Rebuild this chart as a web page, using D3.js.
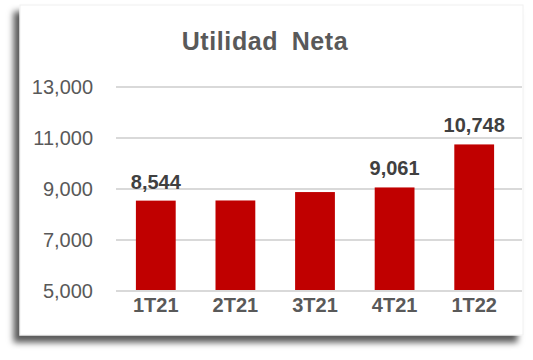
<!DOCTYPE html>
<html>
<head>
<meta charset="utf-8">
<script src="https://cdn.jsdelivr.net/npm/d3@7"></script>
<style>
  body { margin: 0; background: #fff; }
  text { font-family: Arial, "Liberation Sans", sans-serif; }
</style>
</head>
<body>
<svg id="chart" width="533" height="360"></svg>
<script>
const quarters = ['1T21', '2T21', '3T21', '4T21', '1T22']
const netIncome = [8544, 8550, 8880, 9061, 10748]
const shownLabels = [true, false, false, true, true]
const yTicks = [5000, 7000, 9000, 11000, 13000]

const svg = d3.select('#chart')

// drop shadow for the card
const defs = svg.append('defs')
const shadow = defs.append('filter')
  .attr('id', 'shadow')
  .attr('x', '-10%').attr('y', '-10%')
  .attr('width', '120%').attr('height', '120%')
shadow.append('feDropShadow')
  .attr('dx', -6).attr('dy', 7)
  .attr('stdDeviation', 3)
  .attr('flood-color', '#000')
  .attr('flood-opacity', 0.65)

svg.append('rect')
  .attr('x', 20).attr('y', 5)
  .attr('width', 503).attr('height', 330)
  .attr('fill', '#fff')
  .attr('stroke', '#f0f0f0')
  .attr('filter', 'url(#shadow)')

svg.append('text')
  .text('Utilidad Neta')
  .attr('x', 265).attr('y', 50)
  .attr('text-anchor', 'middle')
  .attr('font-size', 25)
  .attr('font-weight', 'bold')
  .attr('letter-spacing', 0.6)
  .attr('word-spacing', 6)
  .attr('fill', '#595959')

const x = d3.scaleBand()
  .domain(quarters)
  .range([116, 514])
  .paddingInner(0.5)
  .paddingOuter(0.25)

const y = d3.scaleLinear()
  .domain([5000, 13000])
  .range([291, 87])

// gridlines
svg.append('g')
  .selectAll('line')
  .data(yTicks)
  .join('line')
  .attr('x1', 116).attr('x2', 522)
  .attr('y1', d => y(d)).attr('y2', d => y(d))
  .attr('stroke', '#d9d9d9')
  .attr('stroke-width', 2)

// y tick labels
const fmt = d3.format(',')
svg.append('g')
  .selectAll('text')
  .data(yTicks)
  .join('text')
  .text(d => fmt(d))
  .attr('x', 93)
  .attr('y', d => y(d) + 7)
  .attr('text-anchor', 'end')
  .attr('font-size', 20)
  .attr('fill', '#595959')

// bars
svg.append('g')
  .selectAll('rect')
  .data(netIncome)
  .join('rect')
  .attr('x', (d, i) => x(quarters[i]))
  .attr('width', x.bandwidth())
  .attr('y', d => y(d))
  .attr('height', d => y(5000) - y(d) - 1)
  .attr('fill', '#c00000')

// value labels
svg.append('g')
  .selectAll('text')
  .data(netIncome.filter((d, i) => shownLabels[i]))
  .join('text')
  .text(d => fmt(d))
  .attr('x', d => x(quarters[netIncome.indexOf(d)]) + x.bandwidth() / 2)
  .attr('y', d => y(d) - 12)
  .attr('text-anchor', 'middle')
  .attr('font-size', 20)
  .attr('font-weight', 'bold')
  .attr('fill', '#404040')

// category labels
svg.append('g')
  .selectAll('text')
  .data(quarters)
  .join('text')
  .text(d => d)
  .attr('x', d => x(d) + x.bandwidth() / 2)
  .attr('y', 312)
  .attr('text-anchor', 'middle')
  .attr('font-size', 20)
  .attr('font-weight', 'bold')
  .attr('fill', '#595959')
</script>
</body>
</html>
